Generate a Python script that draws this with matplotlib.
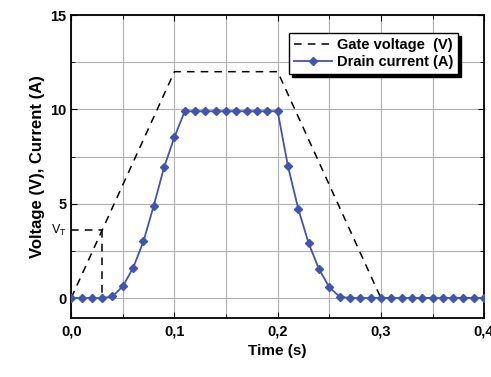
import matplotlib
matplotlib.use("Agg")
import matplotlib.pyplot as plt
from matplotlib.ticker import MultipleLocator, FuncFormatter

plt.rcParams['font.family'] = ['Liberation Sans', 'DejaVu Sans']
plt.rcParams['font.weight'] = 'bold'

# Gate voltage (V)
gate_t = [0.0, 0.1, 0.2, 0.3, 0.4]
gate_v = [0.0, 12.0, 12.0, 0.0, 0.0]

# Threshold voltage marker
vt_t = 0.03
vt_v = 3.6

# Drain current (A)
drain_t = [0.00, 0.01, 0.02, 0.03, 0.04, 0.05, 0.06, 0.07, 0.08, 0.09,
           0.10, 0.11, 0.12, 0.13, 0.14, 0.15, 0.16, 0.17, 0.18, 0.19,
           0.20, 0.21, 0.22, 0.23, 0.24, 0.25, 0.26, 0.27, 0.28, 0.29,
           0.30, 0.31, 0.32, 0.33, 0.34, 0.35, 0.36, 0.37, 0.38, 0.39, 0.40]
drain_i = [0.0, 0.0, 0.0, 0.0, 0.08, 0.62, 1.6, 3.0, 4.9, 6.93,
           8.53, 9.9, 9.9, 9.9, 9.9, 9.9, 9.9, 9.9, 9.9, 9.9,
           9.9, 6.98, 4.72, 2.9, 1.54, 0.57, 0.07, 0.0, 0.0, 0.0,
           0.0, 0.0, 0.0, 0.0, 0.0, 0.0, 0.0, 0.0, 0.0, 0.0, 0.0]

fig = plt.figure(figsize=(4.91, 3.77), dpi=100)
ax = fig.add_axes([0.145, 0.157, 0.841, 0.803])

ax.plot(gate_t, gate_v, '--', color='black', lw=1.1, dashes=(5, 4),
        label='Gate voltage  (V)', zorder=3)
ax.plot([0, vt_t], [vt_v, vt_v], '--', color='black', lw=1.1, dashes=(5, 4), zorder=3)
ax.plot([vt_t, vt_t], [vt_v, 0], '--', color='black', lw=1.1, dashes=(5, 4), zorder=3)
ax.plot(drain_t, drain_i, '-', color='#4055b0', lw=1.3, marker='D', ms=4.5,
        label='Drain current (A)', zorder=4)

ax.text(-0.004, vt_v, r'V$_\mathregular{T}$', ha='right', va='center',
        fontsize=9, fontweight='normal')

ax.set_xlim(0, 0.4)
ax.set_ylim(-1.05, 15)
ax.xaxis.set_major_locator(MultipleLocator(0.1))
ax.xaxis.set_minor_locator(MultipleLocator(0.05))
ax.yaxis.set_major_locator(MultipleLocator(5))
ax.yaxis.set_minor_locator(MultipleLocator(2.5))
ax.xaxis.set_major_formatter(FuncFormatter(lambda v, p: f"{v:.1f}".replace('.', ',')))
ax.yaxis.set_major_formatter(FuncFormatter(lambda v, p: f"{v:.0f}"))

ax.grid(True, which='both', color='#b0b0b0', lw=0.8)
ax.set_axisbelow(True)
ax.tick_params(which='both', direction='in', top=True, right=True, labelsize=10.5)
ax.tick_params(axis='x', pad=5)
ax.tick_params(which='major', length=4)
ax.tick_params(which='minor', length=3)
for s in ax.spines.values():
    s.set_linewidth(1.3)

ax.set_xlabel('Time (s)', fontsize=11, fontweight='bold')
ax.set_ylabel('Voltage (V), Current (A)', fontsize=12, fontweight='bold')

leg = ax.legend(loc='upper right', bbox_to_anchor=(0.955, 0.965), fontsize=10.5,
                frameon=True, fancybox=False, shadow={'color': 'black', 'alpha': 1},
                edgecolor='black', handlelength=2.6, borderpad=0.35,
                labelspacing=0.2, handletextpad=0.3)
leg.get_frame().set_linewidth(1.0)

fig.savefig('out.png', dpi=100)
